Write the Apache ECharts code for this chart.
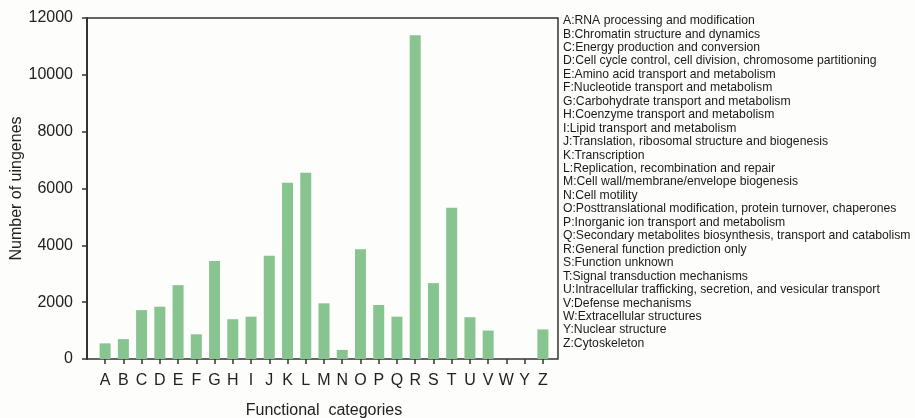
<!DOCTYPE html>
<html>
<head>
<meta charset="utf-8">
<script src="https://cdn.jsdelivr.net/npm/echarts@6/dist/echarts.min.js"></script>
<style>
html,body{margin:0;padding:0;background:#fdfdfb;}
#chart{width:915px;height:418px;}
</style>
</head>
<body>
<div id="chart"></div>
<script>
var categories = ['A','B','C','D','E','F','G','H','I','J','K','L','M','N','O','P','Q','R','S','T','U','V','W','Y','Z'];
var uniGeneCounts = [550,700,1720,1840,2600,870,3450,1400,1490,3630,6200,6550,1960,320,3860,1900,1490,11390,2670,5320,1470,1000,0,0,1040];
var yTicks = [0,2000,4000,6000,8000,10000,12000];
var descriptions = [
 'A:RNA processing and modification',
 'B:Chromatin structure and dynamics',
 'C:Energy production and conversion',
 'D:Cell cycle control, cell division, chromosome partitioning',
 'E:Amino acid transport and metabolism',
 'F:Nucleotide transport and metabolism',
 'G:Carbohydrate transport and metabolism',
 'H:Coenzyme transport and metabolism',
 'I:Lipid transport and metabolism',
 'J:Translation, ribosomal structure and biogenesis',
 'K:Transcription',
 'L:Replication, recombination and repair',
 'M:Cell wall/membrane/envelope biogenesis',
 'N:Cell motility',
 'O:Posttranslational modification, protein turnover, chaperones',
 'P:Inorganic ion transport and metabolism',
 'Q:Secondary metabolites biosynthesis, transport and catabolism',
 'R:General function prediction only',
 'S:Function unknown',
 'T:Signal transduction mechanisms',
 'U:Intracellular trafficking, secretion, and vesicular transport',
 'V:Defense mechanisms',
 'W:Extracellular structures',
 'Y:Nuclear structure',
 'Z:Cytoskeleton'
];

var font = 'Liberation Sans, Arial, sans-serif';
var chart = echarts.init(document.getElementById('chart'));
chart.setOption({
  backgroundColor: '#fdfdfb',
  animation: false,
  title: {
    text: descriptions.join('\n'),
    left: 563, top: 14, padding: 0,
    textStyle: {fontSize: 12.2, lineHeight: 13.45, color: '#1a1a1a', fontWeight: 'normal', fontFamily: font}
  },
  grid: [
    {left: 87, top: 18, width: 471, height: 341, show: true, borderColor: '#333', borderWidth: 1.5, backgroundColor: 'transparent', containLabel: false, outerBoundsMode: 'none'},
    {left: 96, top: 18, width: 456, height: 341, containLabel: false, outerBoundsMode: 'none'}
  ],
  xAxis: [
    {gridIndex: 0, type: 'value', show: false, min: 0, max: 1},
    {gridIndex: 1, type: 'category', data: categories,
     axisLine: {show: false},
     axisTick: {show: true, alignWithLabel: true, length: 5, lineStyle: {color: '#333', width: 1.5}},
     axisLabel: {fontSize: 16, color: '#222', margin: 14, fontFamily: font, interval: 0},
     name: 'Functional  categories', nameLocation: 'middle', nameGap: 44, nameMoveOverlap: false,
     nameTextStyle: {fontSize: 16, color: '#222', fontFamily: font}}
  ],
  yAxis: [
    {gridIndex: 0, type: 'value', min: yTicks[0], max: yTicks[yTicks.length-1], interval: yTicks[1]-yTicks[0],
     axisLine: {show: true, lineStyle: {color: '#333', width: 2}},
     axisTick: {show: true, length: 5, lineStyle: {color: '#333', width: 1.5}},
     axisLabel: {fontSize: 16, color: '#222', margin: 14, fontFamily: font, formatter: function(v){return String(v);}},
     splitLine: {show: false},
     name: 'Number of uingenes', nameLocation: 'middle', nameRotate: 90, nameGap: 62, nameMoveOverlap: false,
     nameTextStyle: {fontSize: 16, color: '#222', fontFamily: font}},
    {gridIndex: 1, type: 'value', show: false, min: yTicks[0], max: yTicks[yTicks.length-1], splitLine: {show: false}}
  ],
  series: [{
    type: 'bar', xAxisIndex: 1, yAxisIndex: 1,
    data: uniGeneCounts, barWidth: 11,
    itemStyle: {color: '#88c490'}
  }]
});
</script>
</body>
</html>
